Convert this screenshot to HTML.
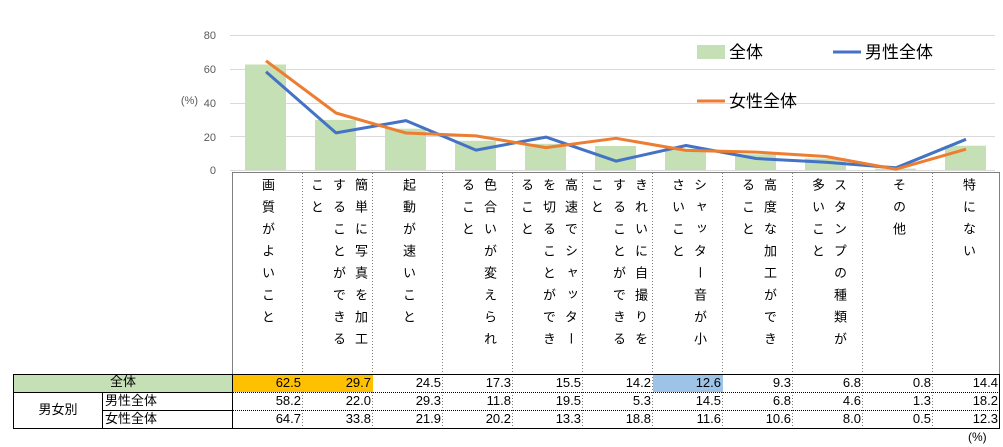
<!DOCTYPE html>
<html><head><meta charset="utf-8"><style>
body{margin:0;width:1003px;height:447px;background:#fff;position:relative;overflow:hidden;font-family:"Liberation Sans","Noto Sans CJK JP",sans-serif;}
.ab{position:absolute;}
.vt{position:absolute;top:178px;writing-mode:vertical-rl;font-size:13px;line-height:22px;letter-spacing:9px;color:#000;}
.cell{position:absolute;height:18px;font-size:13px;line-height:18px;text-align:right;box-sizing:border-box;padding-right:2px;}
</style></head><body>
<svg class="ab" style="left:0;top:0" width="1003" height="447">
<g stroke="#d9d9d9" stroke-width="1">
<line x1="230" x2="995" y1="35.5" y2="35.5"/><line x1="230" x2="995" y1="69.5" y2="69.5"/>
<line x1="230" x2="995" y1="103.5" y2="103.5"/><line x1="230" x2="995" y1="136.5" y2="136.5"/>
<line x1="230" x2="995" y1="170.5" y2="170.5"/></g>
<g font-size="11" fill="#595959" text-anchor="end" font-family="Liberation Sans,sans-serif">
<text x="216" y="39">80</text><text x="216" y="73">60</text><text x="216" y="107">40</text><text x="216" y="141">20</text><text x="216" y="174">0</text>
<text x="198" y="104">(%)</text></g>
<g fill="#C5E0B4">
<rect x="245" y="64.5" width="41" height="105.5"/><rect x="315" y="119.9" width="41" height="50.1"/>
<rect x="385" y="128.7" width="41" height="41.3"/><rect x="455" y="140.8" width="41" height="29.2"/>
<rect x="525" y="143.8" width="41" height="26.2"/><rect x="595" y="146" width="41" height="24"/>
<rect x="665" y="148.7" width="41" height="21.3"/><rect x="735" y="154.3" width="41" height="15.7"/>
<rect x="805" y="158.5" width="41" height="11.5"/><rect x="875" y="168.6" width="41" height="1.4"/>
<rect x="945" y="145.7" width="41" height="24.3"/></g>
<polyline fill="none" stroke="#4472C4" stroke-width="3" stroke-linejoin="round" points="266,71.8 336,132.9 406,120.6 476,150.1 546,137.1 616,161.1 686,145.5 756,158.5 826,162.2 896,167.8 966,139.3"/>
<polyline fill="none" stroke="#ED7D31" stroke-width="3" stroke-linejoin="round" points="266,60.8 336,113 406,133 476,135.9 546,147.6 616,138.3 686,150.4 756,152.1 826,156.5 896,169.2 966,149.2"/>
<rect x="697" y="45" width="28" height="14" fill="#C5E0B4"/>
<line x1="833" x2="861" y1="52" y2="52" stroke="#4472C4" stroke-width="3"/>
<line x1="697" x2="725" y1="101" y2="101" stroke="#ED7D31" stroke-width="3"/>
<g font-size="17" fill="#000" font-family="Liberation Sans,Noto Sans CJK JP,sans-serif">
<text x="729" y="58">全体</text><text x="865" y="58">男性全体</text><text x="729" y="107">女性全体</text></g>
<line x1="232.5" y1="172" x2="232.5" y2="374" stroke="#7f7f7f"/>
<line x1="232" y1="172.5" x2="1000" y2="172.5" stroke="#7f7f7f"/>
<line x1="999.5" y1="172" x2="999.5" y2="374" stroke="#7f7f7f"/>
<g stroke="#7f7f7f" stroke-dasharray="1,2">
<line x1="302.5" y1="173" x2="302.5" y2="428"/><line x1="372.5" y1="173" x2="372.5" y2="428"/>
<line x1="442.5" y1="173" x2="442.5" y2="428"/><line x1="512.5" y1="173" x2="512.5" y2="428"/>
<line x1="582.5" y1="173" x2="582.5" y2="428"/><line x1="652.5" y1="173" x2="652.5" y2="428"/>
<line x1="722.5" y1="173" x2="722.5" y2="428"/><line x1="792.5" y1="173" x2="792.5" y2="428"/>
<line x1="862.5" y1="173" x2="862.5" y2="428"/><line x1="932.5" y1="173" x2="932.5" y2="428"/>
</g>
<rect x="13" y="374" width="220" height="18" fill="#C5E0B4"/>
<rect x="233" y="374" width="140" height="18" fill="#FFC000"/>
<rect x="653" y="374" width="70" height="18" fill="#9DC3E6"/>
<g stroke="#000" stroke-dasharray="1,1">
<line x1="233" y1="392.5" x2="1000" y2="392.5"/><line x1="233" y1="410.5" x2="1000" y2="410.5"/>
</g>
<g stroke="#000" stroke-width="1" fill="none">
<rect x="13.5" y="374.5" width="986" height="54"/>
<line x1="13" y1="392.5" x2="233" y2="392.5"/>
<line x1="102.5" y1="392" x2="102.5" y2="428"/>
<line x1="102" y1="410.5" x2="233" y2="410.5"/>
<line x1="232.5" y1="374" x2="232.5" y2="428"/>
</g>
</svg>
<div class="vt" style="left:256px">画質がよいこと</div>
<div class="vt" style="left:305px;height:180px">簡単に写真を加工することができること</div>
<div class="vt" style="left:397px">起動が速いこと</div>
<div class="vt" style="left:456px;height:180px">色合いが変えられること</div>
<div class="vt" style="left:515px;height:180px">高速でシャッターを切ることができること</div>
<div class="vt" style="left:585px;height:180px">きれいに自撮りをすることができること</div>
<div class="vt" style="left:666px;height:180px">シャッター音が小さいこと</div>
<div class="vt" style="left:736px;height:180px">高度な加工ができること</div>
<div class="vt" style="left:806px;height:180px">スタンプの種類が多いこと</div>
<div class="vt" style="left:887px">その他</div>
<div class="vt" style="left:957px">特にない</div>
<div class="ab" style="left:13px;top:374px;width:220px;text-align:center;font-size:13px;line-height:16px">全体</div>
<div class="ab" style="left:13px;top:401px;width:90px;text-align:center;font-size:13px;line-height:18px">男女別</div>
<div class="ab" style="left:105px;top:392px;font-size:13px;line-height:18px">男性全体</div>
<div class="ab" style="left:105px;top:410px;font-size:13px;line-height:18px">女性全体</div>
<div id="t"></div>
<script>
var r=[[62.5,29.7,24.5,17.3,15.5,14.2,12.6,9.3,6.8,0.8,14.4],[58.2,22.0,29.3,11.8,19.5,5.3,14.5,6.8,4.6,1.3,18.2],[64.7,33.8,21.9,20.2,13.3,18.8,11.6,10.6,8.0,0.5,12.3]];
var h='';r.forEach(function(row,i){row.forEach(function(v,j){h+='<div class="cell" style="left:'+(233+70*j)+'px;top:'+(374+18*i)+'px;width:'+(j==10?67:70)+'px">'+v.toFixed(1)+'</div>';});});
document.getElementById('t').innerHTML=h;
</script>
<div class="ab" style="left:968px;top:430px;font-size:12px">(%)</div>
</body></html>
